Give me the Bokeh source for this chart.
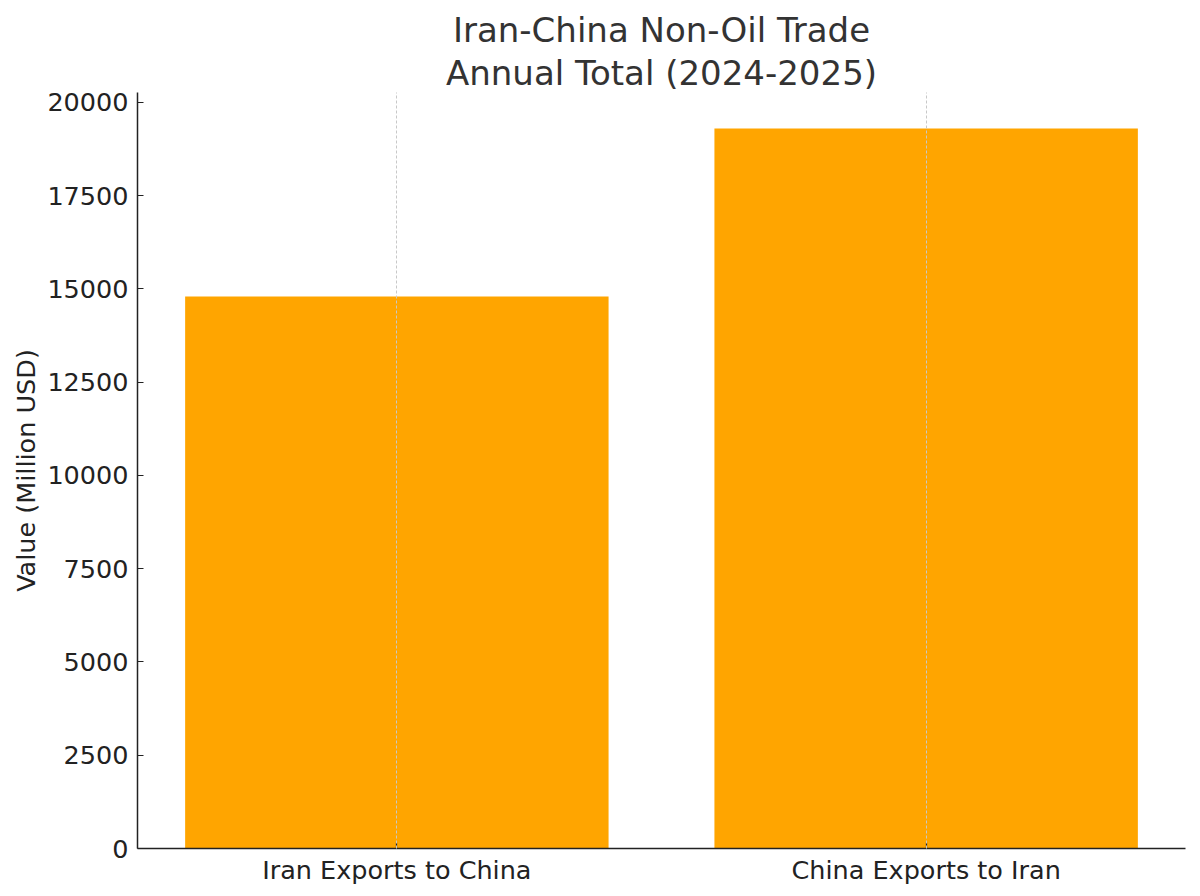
from bokeh.plotting import figure
from bokeh.models import Range1d, FixedTicker, Title, NumeralTickFormatter
from bokeh.embed import file_html
from bokeh.resources import INLINE

categories = ["Iran Exports to China", "China Exports to Iran"]
values = [14800, 19300]
y_ticks = [0, 2500, 5000, 7500, 10000, 12500, 15000, 17500, 20000]

FONT = "DejaVu Sans"
positions = list(range(len(categories)))

p = figure(width=1200, height=896, output_backend="svg", toolbar_location=None,
           x_range=Range1d(-0.49, len(categories) - 0.51),
           y_range=Range1d(0, max(values) * 1.05),
           min_border_left=137, min_border_right=15, min_border_top=92, min_border_bottom=48)
p.title = None

p.vbar(x=positions, top=values, width=0.8, color="#FFA500", line_color=None)

p.add_layout(Title(text="Annual Total (2024-2025)", align="center", text_font=FONT,
                   text_font_size="34px", text_font_style="normal", text_color="#333333",
                   standoff=0, offset=0), "above")
p.add_layout(Title(text="Iran-China Non-Oil Trade", align="center", text_font=FONT,
                   text_font_size="34px", text_font_style="normal", text_color="#333333",
                   standoff=2, offset=0), "above")

p.outline_line_color = None
p.ygrid.grid_line_color = None
p.xgrid.grid_line_color = "#c8c8c8"
p.xgrid.grid_line_dash = "3 2"
p.xgrid.grid_line_width = 1
p.xgrid.level = "overlay"

p.xaxis.ticker = FixedTicker(ticks=positions)
p.xaxis.major_label_overrides = {i: c for i, c in zip(positions, categories)}
p.yaxis.ticker = FixedTicker(ticks=y_ticks)
p.yaxis.formatter = NumeralTickFormatter(format="0")
p.yaxis.axis_label = "Value (Million USD)"

for ax in (p.xaxis, p.yaxis):
    ax.axis_line_color = "#222222"
    ax.axis_line_width = 1.5
    ax.major_tick_line_color = "#222222"
    ax.major_tick_line_width = 1.2
    ax.major_tick_in = 6
    ax.major_tick_out = 0
    ax.minor_tick_line_color = None
    ax.major_label_text_font = FONT
    ax.major_label_text_font_size = "25.5px"
    ax.major_label_text_color = "#222222"
    ax.axis_label_text_font = FONT
    ax.axis_label_text_font_size = "25.5px"
    ax.axis_label_text_font_style = "normal"
    ax.axis_label_text_color = "#222222"

p.yaxis.major_label_standoff = 9
p.xaxis.major_label_standoff = 6
p.yaxis.axis_label_standoff = 3

open("out.html", "w").write(file_html(p, INLINE))
